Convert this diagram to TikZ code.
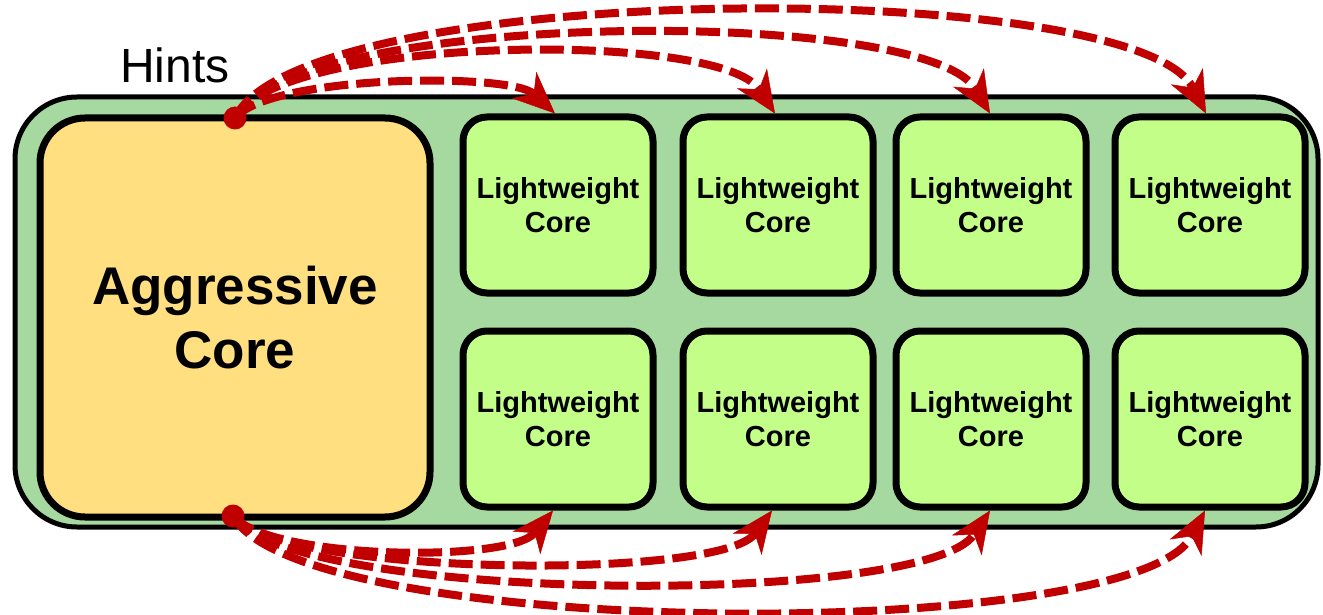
\documentclass[tikz,border=0pt]{standalone}
\usepackage{fontspec}
\setmainfont{Liberation Sans}
\usetikzlibrary{arrows.meta}
\definecolor{chipgreen}{HTML}{A6D9A0}
\definecolor{bigcore}{HTML}{FFDF80}
\definecolor{smallcore}{HTML}{C3FF88}
\definecolor{hintred}{HTML}{C00000}
\begin{document}
\begin{tikzpicture}[x=1pt,y=-1pt,
  chip/.style={draw=black,line width=5pt,fill=chipgreen,rounded corners=62pt,
    minimum width=1303pt,minimum height=430pt,inner sep=0pt},
  bigcorebox/.style={draw=black,line width=7pt,fill=bigcore,rounded corners=45pt,
    minimum width=390pt,minimum height=399pt,align=center,
    font=\fontsize{53}{64}\selectfont\bfseries},
  lwcore/.style={draw=black,line width=7pt,fill=smallcore,rounded corners=24pt,
    minimum width=190pt,minimum height=176pt,align=center,
    font=\fontsize{29}{34}\selectfont\bfseries},
  hintdot/.style={circle,fill=hintred,minimum size=23pt,inner sep=0pt},
  hint/.style={draw=hintred,line width=8pt,dash pattern=on 24pt off 8pt,
    -{Stealth[length=42pt,width=36pt,inset=13pt,line width=0.5pt,fill=hintred]}},
  label/.style={font=\fontsize{48}{56}\selectfont}]
\useasboundingbox (0,0) rectangle (1323,615);

% chip outline
\node[chip] (chip) at (666.5,312) {};

% cores
\node[bigcorebox] (ag) at (235,317.5) {Aggressive\\Core};
\node[lwcore] (l1) at (558,205) {Lightweight\\Core};
\node[lwcore] (l2) at (778,205) {Lightweight\\Core};
\node[lwcore] (l3) at (991,205) {Lightweight\\Core};
\node[lwcore] (l4) at (1210,205) {Lightweight\\Core};
\node[lwcore] (l5) at (558,419) {Lightweight\\Core};
\node[lwcore] (l6) at (778,419) {Lightweight\\Core};
\node[lwcore] (l7) at (991,419) {Lightweight\\Core};
\node[lwcore] (l8) at (1210,419) {Lightweight\\Core};

% hint sources on the aggressive core
\coordinate (ht) at (235,118);
\coordinate (hb) at (233,516);

% hints over the top
\draw[hint] (ht) .. controls (270,75) and (510,72) .. ([xshift=-3pt]l1.north);
\draw[hint] (ht) .. controls (280,35) and (720,30) .. ([xshift=-3pt]l2.north);
\draw[hint] (ht) .. controls (290,10) and (925,5) .. ([xshift=-1pt]l3.north);
\draw[hint] (ht) .. controls (300,-20) and (1135,-25) .. ([xshift=-4pt]l4.north);

% hints underneath
\draw[hint] (hb) .. controls (270,560) and (510,563) .. ([xshift=-5pt]l5.south);
\draw[hint] (hb) .. controls (280,576) and (720,581) .. ([xshift=-6pt]l6.south);
\draw[hint] (hb) .. controls (290,603) and (925,608) .. ([xshift=-1pt]l7.south);
\draw[hint] (hb) .. controls (300,640) and (1135,645) .. ([xshift=-5pt]l8.south);

\node[hintdot] (dt) at (ht) {};
\node[hintdot] (db) at (hb) {};

\node[label] (hints) at (175,65) {Hints};
\end{tikzpicture}
\end{document}
